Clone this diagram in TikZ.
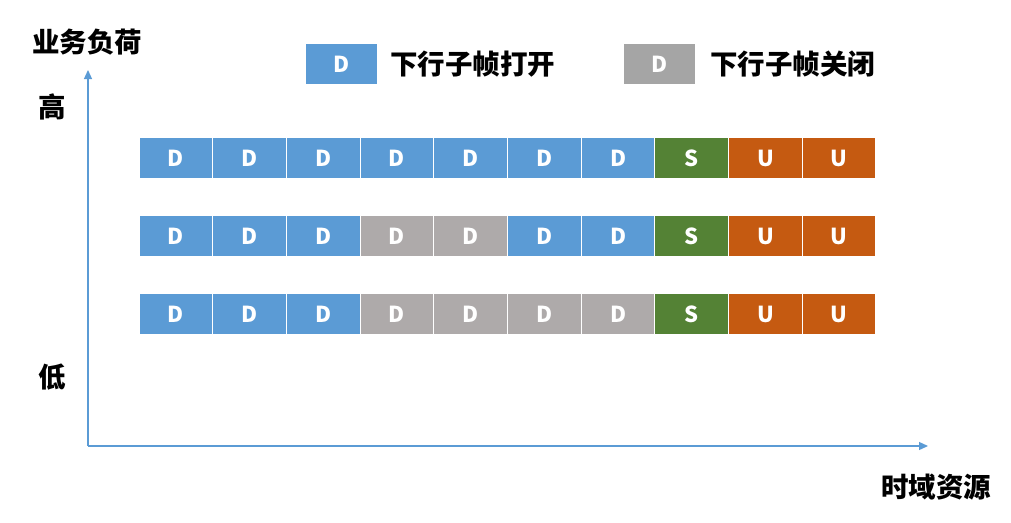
\documentclass[tikz,border=0pt]{standalone}
\usepackage{fontspec}
\setmainfont{Noto Sans CJK SC}
\usetikzlibrary{arrows.meta}
\definecolor{dlblue}{HTML}{5B9BD5}
\definecolor{offgray}{HTML}{AEAAAA}
\definecolor{keygray}{HTML}{A5A5A5}
\definecolor{spgreen}{HTML}{548235}
\definecolor{ulorange}{HTML}{C55A11}
\tikzset{
  slot/.style={draw=white,line width=1pt,minimum width=73.6pt,minimum height=41pt,
    inner sep=0pt,text=white,font=\bfseries\fontsize{22}{22}\selectfont},
  dl/.style={slot,fill=dlblue},
  off/.style={slot,fill=offgray},
  sp/.style={slot,fill=spgreen},
  ul/.style={slot,fill=ulorange},
  lbl/.style={font=\bfseries\fontsize{27.5}{27.5}\selectfont,inner sep=0pt},
  axis/.style={draw=dlblue,line width=1.3pt,-{Triangle[length=9pt,width=8pt]}}
}
\begin{document}
\begin{tikzpicture}[x=1pt,y=-1pt]
  \useasboundingbox (0,0) rectangle (1011,522);
  % axes
  \coordinate (o) at (88,446);
  \coordinate (ytip) at (88,70);
  \coordinate (xtip) at (928,446);
  \draw[axis] (o) -- (ytip);
  \draw[axis] (o) -- (xtip);
  \node[lbl] (load) at (87,42) {业务负荷};
  \node[lbl] (high) at (52,107) {高};
  \node[lbl] (low) at (52,377) {低};
  \node[lbl] (time) at (936,487) {时域资源};
  % legend
  \node[dl,minimum width=72pt] (keyon) at (341.5,64) {D};
  \node[lbl,anchor=west] (keyontxt) at (390,64) {下行子帧打开};
  \node[slot,fill=keygray,minimum width=72pt] (keyoff) at (659.5,64) {D};
  \node[lbl,anchor=west] (keyofftxt) at (710,64) {下行子帧关闭};
  % subframe rows
  \foreach \r/\y/\pat in {
      1/158/{dl/D,dl/D,dl/D,dl/D,dl/D,dl/D,dl/D,sp/S,ul/U,ul/U},
      2/236/{dl/D,dl/D,dl/D,off/D,off/D,dl/D,dl/D,sp/S,ul/U,ul/U},
      3/314/{dl/D,dl/D,dl/D,off/D,off/D,off/D,off/D,sp/S,ul/U,ul/U}}
    \foreach \st/\t [count=\i] in \pat
      \node[\st] (r\r-\i) at ({139+73.7*(\i-0.5)},\y) {\t};
\end{tikzpicture}
\end{document}
